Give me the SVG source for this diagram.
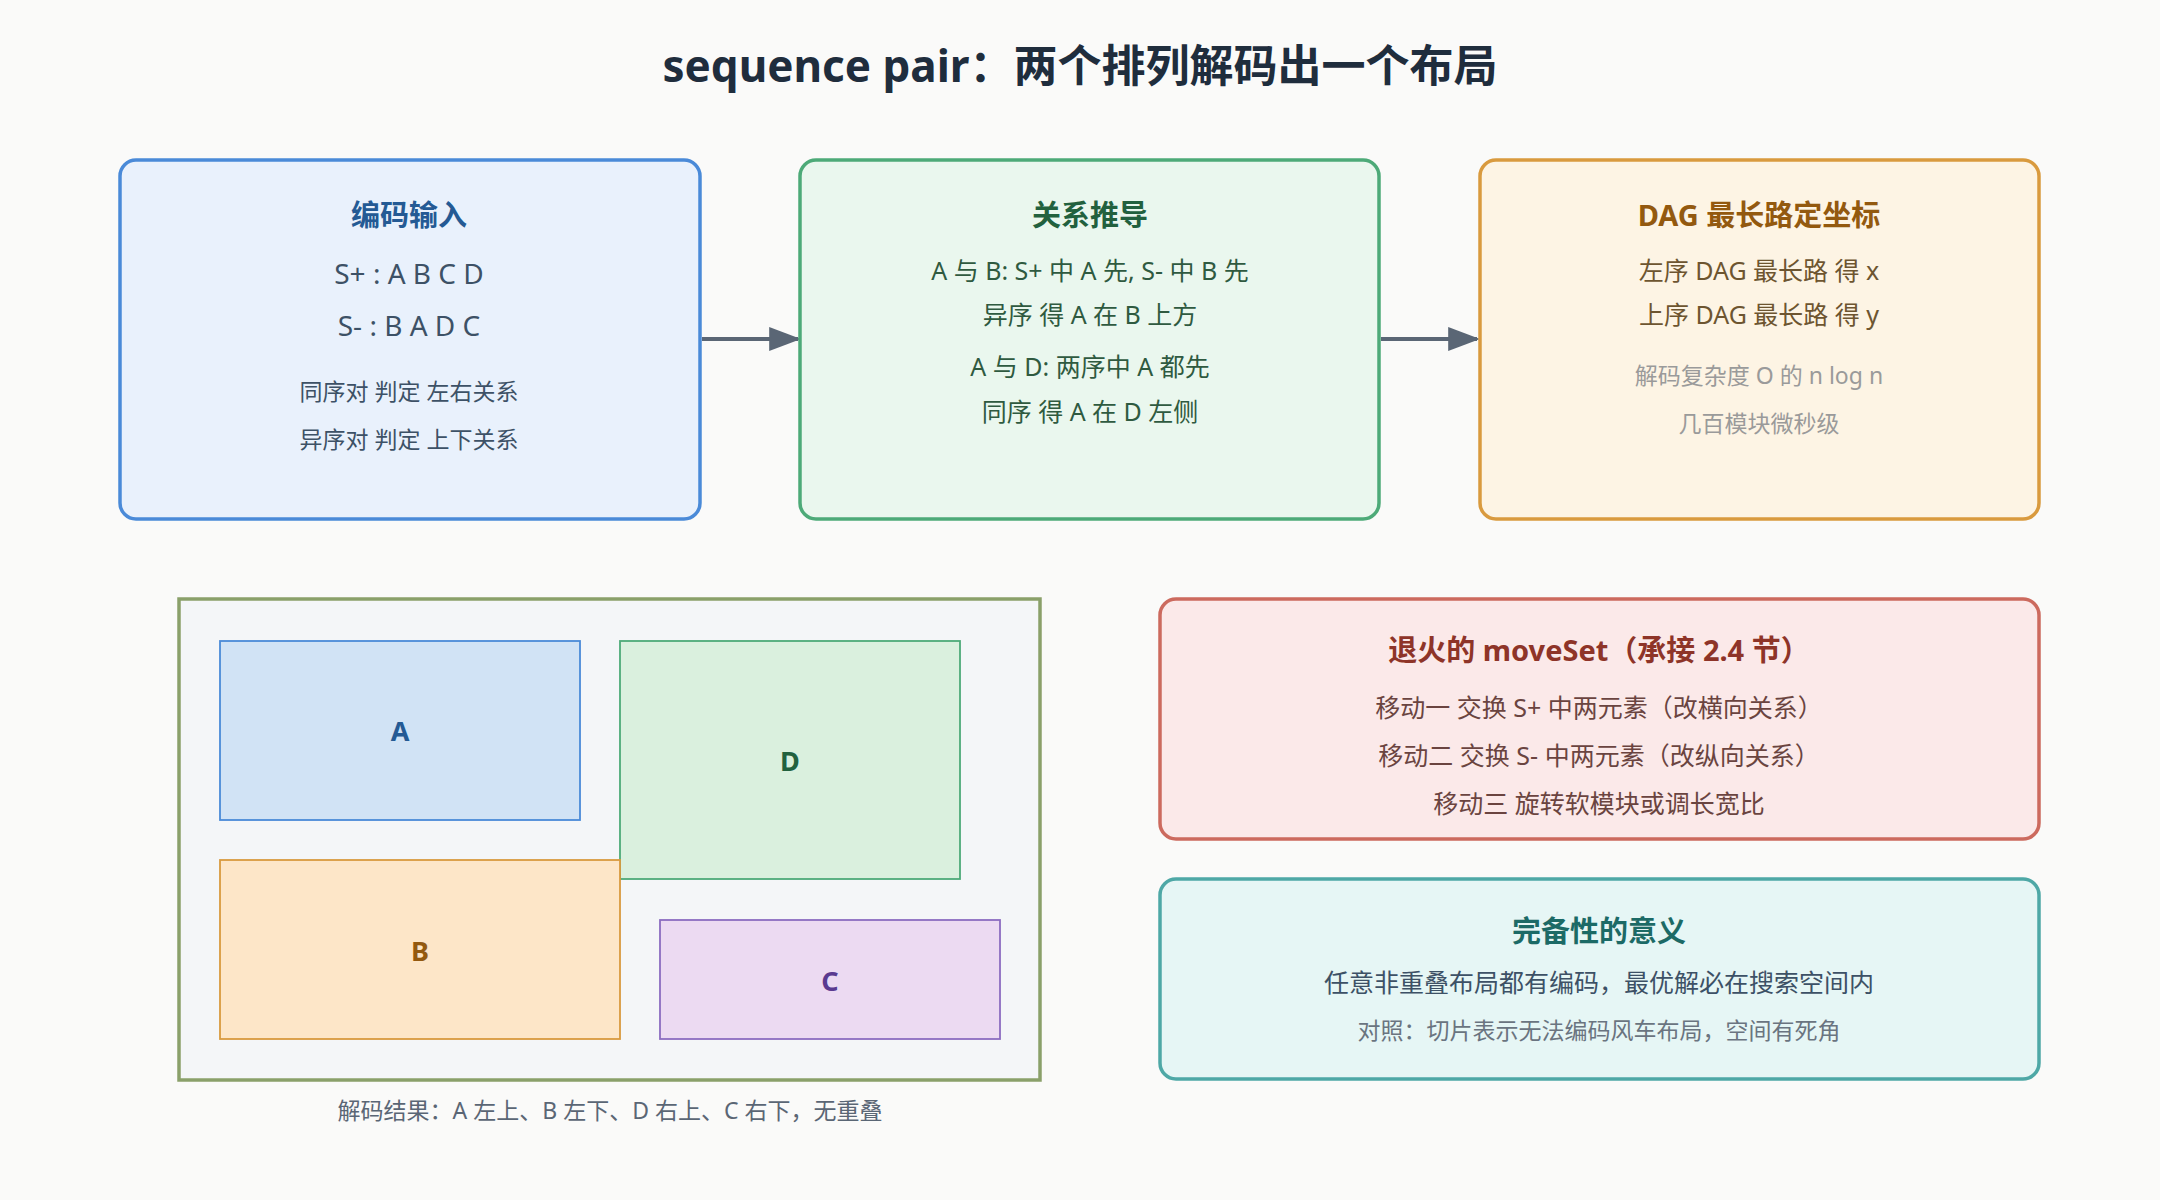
<svg xmlns="http://www.w3.org/2000/svg" width="2160" height="1200" viewBox="0 0 2160 1200">
<defs>
<style>
text{font-family:"Noto Sans","Noto Sans CJK SC",sans-serif;text-anchor:middle;dominant-baseline:central}
.h{font-size:29px;font-weight:bold}
.b{font-size:25px}
.s{font-size:23px}
.box{stroke-width:3.5}
</style>
<marker id="ar" viewBox="0 0 10 10" refX="9" refY="5" markerWidth="10" markerHeight="10" markerUnits="userSpaceOnUse" orient="auto"><path d="M0,0L10,5L0,10z" fill="#5a6675"/></marker>
<marker id="arr" viewBox="0 0 10 10" refX="9" refY="5" markerWidth="32" markerHeight="24" markerUnits="userSpaceOnUse" orient="auto" preserveAspectRatio="none"><path d="M0,0L10,5L0,10z" fill="#5a6675"/></marker>
</defs>
<rect width="2160" height="1200" fill="#fafaf9"/>
<text x="1080" y="65" style="font-size:44px;font-weight:bold" fill="#1f2d3d">sequence pair：两个排列解码出一个布局</text>
<g id="connectors" stroke="#5a6675" stroke-width="4">
<line x1="702" y1="339" x2="798" y2="339" marker-end="url(#arr)"/>
<line x1="1381" y1="339" x2="1477" y2="339" marker-end="url(#arr)"/>
</g>
<g id="encode">
<rect class="box" x="120" y="160" width="580" height="359" rx="16" fill="#e9f1fc" stroke="#4a8ad8"/>
<text class="h" x="409" y="214" fill="#245a94">编码输入</text>
<text x="409" y="273" style="font-size:28px" fill="#3d5166">S+ : A B C D</text>
<text x="409" y="325" style="font-size:28px" fill="#3d5166">S- : B A D C</text>
<text class="s" x="409" y="391" fill="#3d5166">同序对 判定 左右关系</text>
<text class="s" x="409" y="439" fill="#3d5166">异序对 判定 上下关系</text>
</g>
<g id="relation">
<rect class="box" x="800" y="160" width="579" height="359" rx="16" fill="#eaf7ee" stroke="#4daa78"/>
<text class="h" x="1090" y="214" fill="#22613e">关系推导</text>
<text class="b" x="1090" y="270" fill="#2f5a40">A 与 B: S+ 中 A 先, S- 中 B 先</text>
<text class="b" x="1090" y="314" fill="#2f5a40">异序 得 A 在 B 上方</text>
<text class="b" x="1090" y="366" fill="#2f5a40">A 与 D: 两序中 A 都先</text>
<text class="b" x="1090" y="411" fill="#2f5a40">同序 得 A 在 D 左侧</text>
</g>
<g id="dag">
<rect class="box" x="1480" y="160" width="559" height="359" rx="16" fill="#fdf4e4" stroke="#d99a3e"/>
<text class="h" x="1759" y="214" fill="#93590f">DAG 最长路定坐标</text>
<text class="b" x="1759" y="270" fill="#6d5530">左序 DAG 最长路 得 x</text>
<text class="b" x="1759" y="314" fill="#6d5530">上序 DAG 最长路 得 y</text>
<text class="s" x="1759" y="375" fill="#9a9a9a">解码复杂度 O 的 n log n</text>
<text class="s" x="1759" y="423" fill="#9a9a9a">几百模块微秒级</text>
</g>
<g id="layout">
<rect x="179" y="599" width="861" height="481" fill="#f4f6f8" stroke="#8aa06a" stroke-width="3.5"/>
<rect x="220" y="641" width="360" height="179" fill="#d1e3f5" stroke="#4a8ad8" stroke-width="1.8"/>
<text x="400" y="730" style="font-size:27px;font-weight:bold" fill="#245a94">A</text>
<rect x="620" y="641" width="340" height="238" fill="#daf0de" stroke="#4daa78" stroke-width="1.8"/>
<text x="790" y="760" style="font-size:27px;font-weight:bold" fill="#22613e">D</text>
<rect x="220" y="860" width="400" height="179" fill="#fde6c8" stroke="#d99a3e" stroke-width="1.8"/>
<text x="420" y="950" style="font-size:27px;font-weight:bold" fill="#93590f">B</text>
<rect x="660" y="920" width="340" height="119" fill="#ecdaf2" stroke="#8c6cc0" stroke-width="1.8"/>
<text x="830" y="980" style="font-size:27px;font-weight:bold" fill="#5a3a90">C</text>
<text class="s" x="610" y="1110" fill="#5a6675">解码结果：A 左上、B 左下、D 右上、C 右下，无重叠</text>
</g>
<g id="moveset">
<rect class="box" x="1160" y="599" width="879" height="240" rx="16" fill="#fbe9e9" stroke="#cc6a5e"/>
<text class="h" x="1599" y="649" fill="#8e3428">退火的 moveSet（承接 2.4 节）</text>
<text class="b" x="1599" y="707" fill="#6a4440">移动一 交换 S+ 中两元素（改横向关系）</text>
<text class="b" x="1599" y="755" fill="#6a4440">移动二 交换 S- 中两元素（改纵向关系）</text>
<text class="b" x="1599" y="803" fill="#6a4440">移动三 旋转软模块或调长宽比</text>
</g>
<g id="complete">
<rect class="box" x="1160" y="879" width="879" height="200" rx="16" fill="#e6f6f5" stroke="#4ea8a6"/>
<text class="h" x="1599" y="930" fill="#1c6a66">完备性的意义</text>
<text class="b" x="1599" y="982" fill="#3d5166">任意非重叠布局都有编码，最优解必在搜索空间内</text>
<text class="s" x="1599" y="1030" fill="#6a7480">对照：切片表示无法编码风车布局，空间有死角</text>
</g>
</svg>
